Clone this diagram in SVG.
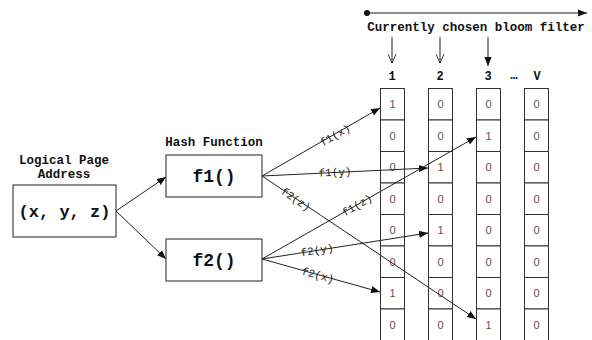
<svg xmlns="http://www.w3.org/2000/svg" width="592" height="340" viewBox="0 0 592 340">
  <style>
    .mono { font-family: "Courier New", "Liberation Mono", monospace; font-weight: bold; fill: #111; }
    .box { fill: #fff; stroke: #222; stroke-width: 1; }
    .cell { fill: #fff; stroke: #333; stroke-width: 1; }
    .bit { font-family: "Liberation Sans", Arial, sans-serif; font-size: 11px; fill: #555; text-anchor: middle; }
    .edge { stroke: #222; stroke-width: 1; fill: none; }
    .lbl { font-family: "Courier New", "Liberation Mono", monospace; font-size: 11px; fill: #222; text-anchor: middle; }
  </style>
  <defs>
    <marker id="arrow" viewBox="0 0 10 10" refX="10" refY="5" markerWidth="9" markerHeight="9" markerUnits="userSpaceOnUse" orient="auto">
      <path d="M0,1 L10,5 L0,9 Z" fill="#111"/>
    </marker>
    <marker id="open" viewBox="0 0 10 10" refX="10" refY="5" markerWidth="9" markerHeight="9" markerUnits="userSpaceOnUse" orient="auto">
      <path d="M0,0.5 L10,5 L0,9.5" fill="none" stroke="#222" stroke-width="1"/>
    </marker>
    <marker id="dot" viewBox="0 0 10 10" refX="5" refY="5" markerWidth="6" markerHeight="6" markerUnits="userSpaceOnUse">
      <circle cx="5" cy="5" r="5" fill="#111"/>
    </marker>
  </defs>

  <!-- selection axis -->
  <g id="selector">
    <line class="edge" x1="367" y1="13" x2="587" y2="13" marker-start="url(#dot)" marker-end="url(#arrow)"/>
    <text class="mono" x="476" y="31" font-size="12.5" text-anchor="middle">Currently chosen bloom filter</text>
    <line class="edge" x1="392" y1="37" x2="392" y2="63" marker-end="url(#open)"/>
    <line class="edge" x1="440" y1="37" x2="440" y2="63" marker-end="url(#open)"/>
    <line class="edge" x1="488" y1="37" x2="488" y2="66" marker-end="url(#arrow)"/>
    <text class="mono" font-size="12" text-anchor="middle" x="392" y="80">1</text>
    <text class="mono" font-size="12" text-anchor="middle" x="440" y="80">2</text>
    <text class="mono" font-size="12" text-anchor="middle" x="488" y="80">3</text>
    <text class="mono" font-size="12" text-anchor="middle" x="514" y="79">…</text>
    <text class="mono" font-size="12" text-anchor="middle" x="537" y="80">V</text>
  </g>

  <!-- input -->
  <g id="address">
    <text class="mono" font-size="12.5" text-anchor="middle" x="64" y="164">Logical Page</text>
    <text class="mono" font-size="12.5" text-anchor="middle" x="64" y="178">Address</text>
    <rect class="box" x="13" y="185" width="103" height="52"/>
    <text class="mono" font-size="17" text-anchor="middle" x="64.5" y="217">(x, y, z)</text>
  </g>

  <!-- hash functions -->
  <g id="f1">
    <text class="mono" font-size="12.5" text-anchor="middle" x="214" y="146">Hash Function</text>
    <rect class="box" x="166" y="155" width="96" height="42"/>
    <text class="mono" font-size="18" text-anchor="middle" x="214" y="182">f1()</text>
  </g>
  <g id="f2">
    <rect class="box" x="166" y="239" width="96" height="42"/>
    <text class="mono" font-size="18" text-anchor="middle" x="214" y="266">f2()</text>
  </g>

  <!-- bloom filter columns -->
  <g id="filter1">
    <rect class="cell" x="380.5" y="88.5" width="24" height="31.5"/><text class="bit" x="392.5" y="108">1</text>
    <rect class="cell" x="380.5" y="120" width="24" height="31.5"/><text class="bit" x="392.5" y="139.5">0</text>
    <rect class="cell" x="380.5" y="151.5" width="24" height="31.5"/><text class="bit" x="392.5" y="171">0</text>
    <rect class="cell" x="380.5" y="183" width="24" height="31.5"/><text class="bit" x="392.5" y="202.5">0</text>
    <rect class="cell" x="380.5" y="214.5" width="24" height="31.5"/><text class="bit" x="392.5" y="234">0</text>
    <rect class="cell" x="380.5" y="246" width="24" height="31.5"/><text class="bit" x="392.5" y="265.5">0</text>
    <rect class="cell" x="380.5" y="277.5" width="24" height="31.5"/><text class="bit" x="392.5" y="297">1</text>
    <rect class="cell" x="380.5" y="309" width="24" height="31.5"/><text class="bit" x="392.5" y="328.5">0</text>
  </g>
  <g id="filter2">
    <rect class="cell" x="428.5" y="88.5" width="24" height="31.5"/><text class="bit" x="440.5" y="108">0</text>
    <rect class="cell" x="428.5" y="120" width="24" height="31.5"/><text class="bit" x="440.5" y="139.5">0</text>
    <rect class="cell" x="428.5" y="151.5" width="24" height="31.5"/><text class="bit" x="440.5" y="171">1</text>
    <rect class="cell" x="428.5" y="183" width="24" height="31.5"/><text class="bit" x="440.5" y="202.5">0</text>
    <rect class="cell" x="428.5" y="214.5" width="24" height="31.5"/><text class="bit" x="440.5" y="234">1</text>
    <rect class="cell" x="428.5" y="246" width="24" height="31.5"/><text class="bit" x="440.5" y="265.5">0</text>
    <rect class="cell" x="428.5" y="277.5" width="24" height="31.5"/><text class="bit" x="440.5" y="297">0</text>
    <rect class="cell" x="428.5" y="309" width="24" height="31.5"/><text class="bit" x="440.5" y="328.5">0</text>
  </g>
  <g id="filter3">
    <rect class="cell" x="476.5" y="88.5" width="24" height="31.5"/><text class="bit" x="488.5" y="108">0</text>
    <rect class="cell" x="476.5" y="120" width="24" height="31.5"/><text class="bit" x="488.5" y="139.5">1</text>
    <rect class="cell" x="476.5" y="151.5" width="24" height="31.5"/><text class="bit" x="488.5" y="171">0</text>
    <rect class="cell" x="476.5" y="183" width="24" height="31.5"/><text class="bit" x="488.5" y="202.5">0</text>
    <rect class="cell" x="476.5" y="214.5" width="24" height="31.5"/><text class="bit" x="488.5" y="234">0</text>
    <rect class="cell" x="476.5" y="246" width="24" height="31.5"/><text class="bit" x="488.5" y="265.5">0</text>
    <rect class="cell" x="476.5" y="277.5" width="24" height="31.5"/><text class="bit" x="488.5" y="297">0</text>
    <rect class="cell" x="476.5" y="309" width="24" height="31.5"/><text class="bit" x="488.5" y="328.5">1</text>
  </g>
  <g id="filterV">
    <rect class="cell" x="524.5" y="88.5" width="24" height="31.5"/><text class="bit" x="536.5" y="108">0</text>
    <rect class="cell" x="524.5" y="120" width="24" height="31.5"/><text class="bit" x="536.5" y="139.5">0</text>
    <rect class="cell" x="524.5" y="151.5" width="24" height="31.5"/><text class="bit" x="536.5" y="171">0</text>
    <rect class="cell" x="524.5" y="183" width="24" height="31.5"/><text class="bit" x="536.5" y="202.5">0</text>
    <rect class="cell" x="524.5" y="214.5" width="24" height="31.5"/><text class="bit" x="536.5" y="234">0</text>
    <rect class="cell" x="524.5" y="246" width="24" height="31.5"/><text class="bit" x="536.5" y="265.5">0</text>
    <rect class="cell" x="524.5" y="277.5" width="24" height="31.5"/><text class="bit" x="536.5" y="297">0</text>
    <rect class="cell" x="524.5" y="309" width="24" height="31.5"/><text class="bit" x="536.5" y="328.5">0</text>
  </g>

  <!-- connectors -->
  <g id="connectors">
    <line class="edge" x1="116" y1="211" x2="166" y2="177" marker-end="url(#arrow)"/>
    <line class="edge" x1="116" y1="211" x2="166" y2="259" marker-end="url(#arrow)"/>

    <line class="edge" x1="262" y1="176" x2="380" y2="108" marker-end="url(#arrow)"/>
    <line class="edge" x1="262" y1="176" x2="428" y2="168" marker-end="url(#arrow)"/>
    <line class="edge" x1="262" y1="176" x2="476" y2="319" marker-end="url(#arrow)"/>
    <line class="edge" x1="262" y1="259" x2="476" y2="137" marker-end="url(#arrow)"/>
    <line class="edge" x1="262" y1="259" x2="428" y2="233" marker-end="url(#arrow)"/>
    <line class="edge" x1="262" y1="259" x2="380" y2="292" marker-end="url(#arrow)"/>

    <text class="lbl" transform="translate(335,135) rotate(-30)" dy="0.35em">f1(x)</text>
    <text class="lbl" transform="translate(335,172) rotate(-2.8)" dy="0.35em">f1(y)</text>
    <text class="lbl" transform="translate(296,199) rotate(34)" dy="0.35em">f2(z)</text>
    <text class="lbl" transform="translate(357,205) rotate(-30)" dy="0.35em">f1(z)</text>
    <text class="lbl" transform="translate(317,250) rotate(-9)" dy="0.35em">f2(y)</text>
    <text class="lbl" transform="translate(318,275) rotate(15.6)" dy="0.35em">f2(x)</text>
  </g>
</svg>
